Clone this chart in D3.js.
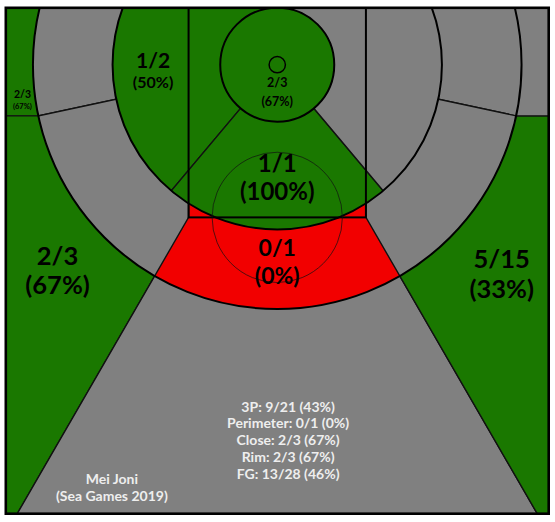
<!DOCTYPE html>
<meta charset="utf-8">
<style>
body { margin: 0; background: #fff; }
text { font-family: Lato, "Open Sans", sans-serif; font-weight: bold; }
</style>
<body>
<script src="https://d3js.org/d3.v7.min.js"></script>
<script>

// ---------------- DATA ----------------
// shot zones of the half court, made / attempted in each
var zones    = ["Rim", "Close Left", "Close Middle", "Close Right",
                "Mid Left Baseline", "Mid Left Wing", "Perimeter", "Mid Right Wing", "Mid Right Baseline",
                "Corner 3 Left", "Wing 3 Left", "Top 3", "Wing 3 Right", "Corner 3 Right"];
var groups   = ["Rim", "Close", "Close", "Close",
                "Perimeter", "Perimeter", "Perimeter", "Perimeter", "Perimeter",
                "3P", "3P", "3P", "3P", "3P"];
var made     = [2, 1, 1, 0,  0, 0, 0, 0, 0,  2, 2, 0, 5, 0];
var attempts = [3, 2, 1, 0,  0, 0, 1, 0, 0,  3, 3, 0, 15, 0];
var summaryOrder = ["3P", "Perimeter", "Close", "Rim"];
var player = "Mei Joni";
var event = "(Sea Games 2019)";

// ---------------- COURT (FIBA, metres) ----------------
var courtW = 15, courtL = 14;
var hoopY = 1.575, hoopR = 0.225;
var rimR = 1.575, closeR = 4.55, threeR = 6.75, cornerY = 2.99;
var laneHalf = 2.45, ftY = 5.8, ftR = 1.8;
var wingAng = 30 * Math.PI / 180, closeAng = 40 * Math.PI / 180;
var far = 20;

var x = d3.scaleLinear().domain([-courtW / 2, courtW / 2]).range([5.8, 548.7]);
var y = d3.scaleLinear().domain([0, courtL]).range([7.8, 513.7]);
var r = function(m) { return x(m) - x(0); };

var green = "#1a7800", red = "#f20000", grey = "#808080";
// points per shot decides the colour
var colour = d3.scaleThreshold().domain([0.9]).range([red, green]);
function zoneFill(i) {
  if (!attempts[i]) return grey;
  var pts = groups[i] == "3P" ? 3 : 2;
  return colour(pts * made[i] / attempts[i]);
}

// polygons for each zone (clipped later by circles)
var xb = laneHalf + (far - ftY) * Math.tan(wingAng);
var cornerX = Math.sqrt(threeR * threeR - (cornerY - hoopY) * (cornerY - hoopY));
var dl = Math.hypot(cornerX, cornerY - hoopY);
var D = [-far * cornerX / dl, hoopY + far * (cornerY - hoopY) / dl];
var H = [0, hoopY];
var L40 = [-far * Math.sin(closeAng), hoopY + far * Math.cos(closeAng)];
function mirror(p) { return p.map(function(q) { return [-q[0], q[1]]; }); }

var shapes = {};
shapes["Corner 3 Left"] = [[-far, -1], [-4, -1], [-4, cornerY], [-far, cornerY]];
shapes["Wing 3 Left"] = [[-far, cornerY], [-laneHalf, cornerY], [-laneHalf, ftY], [-xb, far], [-far, far]];
shapes["Top 3"] = [[-laneHalf, ftY], [laneHalf, ftY], [xb, far], [-xb, far]];
shapes["Wing 3 Right"] = mirror(shapes["Wing 3 Left"]);
shapes["Corner 3 Right"] = mirror(shapes["Corner 3 Left"]);
shapes["Mid Left Baseline"] = [H, D, [-far, -far], [0, -far]];
shapes["Mid Left Wing"] = [H, D, [-far, far], [0, far]];
shapes["Mid Right Baseline"] = mirror(shapes["Mid Left Baseline"]);
shapes["Mid Right Wing"] = mirror(shapes["Mid Left Wing"]);
shapes["Perimeter"] = [[-laneHalf, -1], [laneHalf, -1], [laneHalf, ftY], [xb, far], [-xb, far], [-laneHalf, ftY]];
shapes["Close Left"] = [H, L40, [-far, far], [-far, -far], [0, -far]];
shapes["Close Middle"] = [H, L40, [-L40[0], L40[1]]];
shapes["Close Right"] = mirror(shapes["Close Left"]);

// label anchor (first baseline, metres), font sizes and line gap (px)
var labels = {
  "Rim":           {at: [0, 2.2],      f: [12.5, 12.5], gap: 19},
  "Close Left":    {at: [-3.43, 1.67], f: [21, 16],   gap: 20},
  "Close Middle":  {at: [0, 4.55],     f: [24, 24],   gap: 28},
  "Perimeter":     {at: [0, 6.88],     f: [23, 23],   gap: 28},
  "Corner 3 Left": {at: [-7.04, 2.5],  f: [10.5, 7.5], gap: 10.5},
  "Wing 3 Left":   {at: [-6.07, 7.13], f: [25.5, 25.5], gap: 28.5},
  "Wing 3 Right":  {at: [6.2, 7.2],    f: [25.5, 25.5], gap: 30}
};

var line = d3.line().x(function(d) { return x(d[0]); }).y(function(d) { return y(d[1]); });

var svg = d3.select("body").append("svg")
    .attr("width", 555)
    .attr("height", 522);

var defs = svg.append("defs");
defs.append("clipPath").attr("id", "court").append("rect")
    .attr("x", x(-courtW / 2)).attr("y", y(0))
    .attr("width", x(courtW / 2) - x(-courtW / 2)).attr("height", y(courtL) - y(0));
defs.append("clipPath").attr("id", "three").append("circle")
    .attr("cx", x(0)).attr("cy", y(hoopY)).attr("r", r(threeR));
defs.append("clipPath").attr("id", "close").append("circle")
    .attr("cx", x(0)).attr("cy", y(hoopY)).attr("r", r(closeR));

var court = svg.append("g").attr("clip-path", "url(#court)");

function drawZones(g, names) {
  names.forEach(function(n) {
    var i = zones.indexOf(n);
    g.append("path")
      .attr("d", line(shapes[n]) + "Z")
      .attr("fill", zoneFill(i))
      .attr("stroke", "#111")
      .attr("stroke-width", 1.4);
  });
}

// 3 point zones
drawZones(court, ["Corner 3 Left", "Wing 3 Left", "Top 3", "Wing 3 Right", "Corner 3 Right"]);
// mid range inside the arc
drawZones(court.append("g").attr("clip-path", "url(#three)"),
  ["Mid Left Baseline", "Mid Left Wing", "Mid Right Baseline", "Mid Right Wing", "Perimeter"]);
court.append("circle")
    .attr("cx", x(0)).attr("cy", y(hoopY)).attr("r", r(threeR))
    .attr("fill", "none").attr("stroke", "#000").attr("stroke-width", 2);
// close zones
drawZones(court.append("g").attr("clip-path", "url(#close)"), ["Close Left", "Close Middle", "Close Right"]);
court.append("circle")
    .attr("cx", x(0)).attr("cy", y(hoopY)).attr("r", r(closeR))
    .attr("fill", "none").attr("stroke", "#000").attr("stroke-width", 2);
// rim
court.append("circle")
    .attr("cx", x(0)).attr("cy", y(hoopY)).attr("r", r(rimR))
    .attr("fill", zoneFill(0)).attr("stroke", "#000").attr("stroke-width", 2);

// court lines
court.append("rect")
    .attr("x", x(-laneHalf)).attr("y", y(0))
    .attr("width", x(laneHalf) - x(-laneHalf)).attr("height", y(ftY) - y(0))
    .attr("fill", "none").attr("stroke", "#000").attr("stroke-width", 2);
court.append("circle")
    .attr("cx", x(0)).attr("cy", y(ftY)).attr("r", r(ftR))
    .attr("fill", "none").attr("stroke", "#111").attr("stroke-width", 0.7);
court.append("circle")
    .attr("cx", x(0)).attr("cy", y(hoopY)).attr("r", r(hoopR))
    .attr("fill", "none").attr("stroke", "#000").attr("stroke-width", 1.5);

// zone labels
zones.forEach(function(n, i) {
  var lb = labels[n];
  if (!lb || !attempts[i]) return;
  var t = svg.append("text").attr("text-anchor", "middle").attr("fill", "#000");
  t.append("tspan")
    .attr("x", x(lb.at[0])).attr("y", y(lb.at[1]))
    .attr("font-size", lb.f[0])
    .text(made[i] + "/" + attempts[i]);
  t.append("tspan")
    .attr("x", x(lb.at[0])).attr("y", y(lb.at[1]) + lb.gap)
    .attr("font-size", lb.f[1])
    .text("(" + Math.round(100 * made[i] / attempts[i]) + "%)");
});

// summary lines
var summary = summaryOrder.map(function(g) {
  var m = d3.sum(made.filter(function(d, i) { return groups[i] == g; }));
  var a = d3.sum(attempts.filter(function(d, i) { return groups[i] == g; }));
  return g + ": " + m + "/" + a + " (" + Math.round(100 * m / a) + "%)";
});
var fm = d3.sum(made), fa = d3.sum(attempts);
summary.push("FG: " + fm + "/" + fa + " (" + Math.round(100 * fm / fa) + "%)");

svg.append("g").selectAll("text")
    .data(summary)
  .enter().append("text")
    .attr("x", x(0.3))
    .attr("y", function(d, i) { return y(11.18) + i * 16.7; })
    .attr("text-anchor", "middle")
    .attr("font-size", 14)
    .attr("fill", "#eee")
    .text(function(d) { return d; });

svg.append("g").selectAll("text")
    .data([player, event])
  .enter().append("text")
    .attr("x", x(-4.57))
    .attr("y", function(d, i) { return y(13.18) + i * 16.5; })
    .attr("text-anchor", "middle")
    .attr("font-size", 14)
    .attr("fill", "#eee")
    .text(function(d) { return d; });

// frame
svg.append("rect")
    .attr("x", x(-courtW / 2)).attr("y", y(0))
    .attr("width", x(courtW / 2) - x(-courtW / 2)).attr("height", y(courtL) - y(0))
    .attr("fill", "none").attr("stroke", "#000").attr("stroke-width", 2.6);

</script>
</body>
